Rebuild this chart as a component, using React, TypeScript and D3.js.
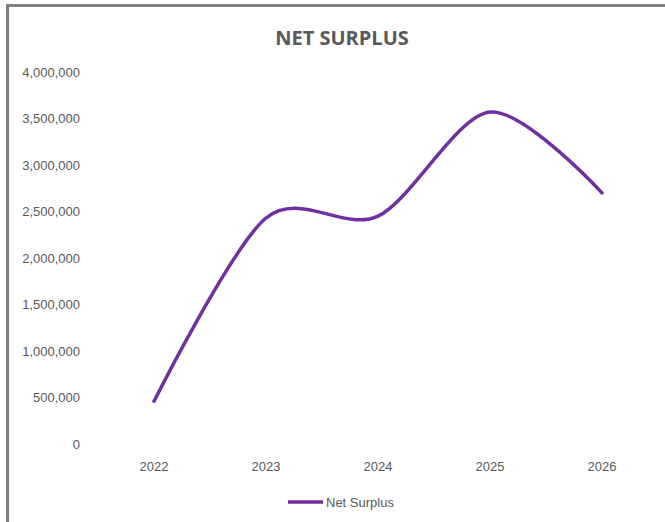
import React from "react";
import * as d3 from "d3";

const years = ["2022", "2023", "2024", "2025", "2026"];
const netSurplus = [460000, 2430000, 2450000, 3570000, 2700000];
const yTicks = [0, 500000, 1000000, 1500000, 2000000, 2500000, 3000000, 3500000, 4000000];
const title = "NET SURPLUS";
const seriesName = "Net Surplus";

const W = 665;
const H = 522;

export default function App() {
  const x = d3.scalePoint<string>().domain(years).range([154, 602]);
  const y = d3.scaleLinear().domain([0, 4000000]).range([444, 72]);
  const fmt = d3.format(",");
  const line = d3
    .line<number>()
    .x((_, i) => x(years[i]) as number)
    .y((d) => y(d))
    .curve(d3.curveCardinal.tension(0.1));
  const path = line(netSurplus) || "";
  const textColor = "#595959";
  return (
    <svg
      width={W}
      height={H}
      style={{ position: "absolute", left: 0, top: 0, background: "#fff" }}
    >
      <rect x={0} y={0} width={W} height={H} fill="#fff" />
      <line x1={7.5} y1={5.5} x2={7.5} y2={H} stroke="#7f7f7f" strokeWidth={3} />
      <line x1={6} y1={5.5} x2={W} y2={5.5} stroke="#7f7f7f" strokeWidth={3} />
      <text
        x={342}
        y={45}
        textAnchor="middle"
        fontFamily="Open Sans"
        fontWeight={700}
        fontSize={20}
        fill={textColor}
      >
        {title}
      </text>
      {yTicks.map((t) => (
        <text
          key={t}
          x={80}
          y={y(t)}
          dy="0.35em"
          textAnchor="end"
          fontFamily="Liberation Sans, Arial"
          fontSize={13}
          fill={textColor}
        >
          {fmt(t)}
        </text>
      ))}
      {years.map((yr) => (
        <text
          key={yr}
          x={x(yr)}
          y={466}
          dy="0.35em"
          textAnchor="middle"
          fontFamily="Liberation Sans, Arial"
          fontSize={13}
          fill={textColor}
        >
          {yr}
        </text>
      ))}
      <path
        d={path}
        fill="none"
        stroke="#7030A0"
        strokeWidth={3.5}
        strokeLinecap="round"
      />
      <line x1={288} y1={502} x2={323} y2={502} stroke="#7030A0" strokeWidth={3.5} />
      <text
        x={326}
        y={502}
        dy="0.35em"
        fontFamily="Liberation Sans, Arial"
        fontSize={13}
        fill={textColor}
      >
        {seriesName}
      </text>
    </svg>
  );
}
